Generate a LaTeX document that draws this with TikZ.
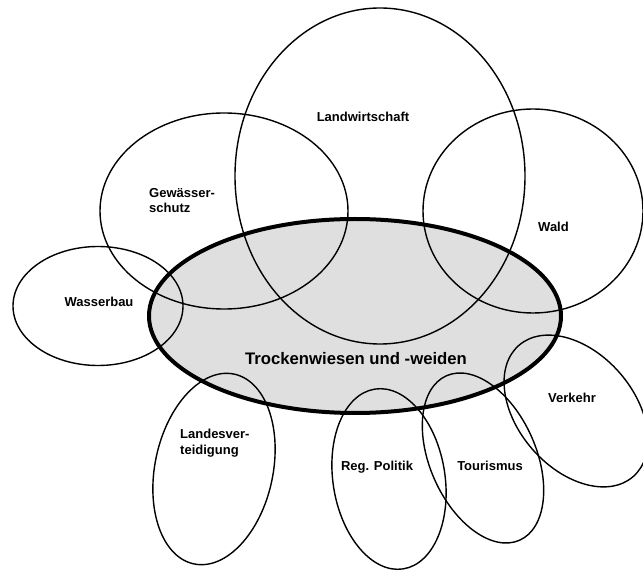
\documentclass[tikz,border=0pt]{standalone}
\usepackage{fontspec}
\setmainfont{Liberation Sans}
\begin{document}
\begin{tikzpicture}[x=1pt,y=1pt,
  field/.style={draw=black,line width=1.4pt},
  core/.style={draw=black,line width=4pt},
  lbl/.style={font=\fontsize{13}{15.5}\selectfont\bfseries,inner sep=0pt,align=left},
  biglbl/.style={font=\fontsize{16.7}{19}\selectfont\bfseries,inner sep=0pt}]
\useasboundingbox (0,0) rectangle (643,571);
\clip (0,0) rectangle (643,571);
\fill[white] (0,0) rectangle (643,571);

% core area fill
\fill[gray!25] (355,255) ellipse [x radius=206, y radius=97];

% surrounding policy fields
\draw[field] (380,395) ellipse [x radius=145, y radius=168];
\draw[field] (224,360) ellipse [x radius=124, y radius=98];
\draw[field] (533,360) ellipse [x radius=110, y radius=102];
\draw[field] (98,265) ellipse [x radius=85, y radius=59.5];
\draw[field,rotate around={-12:(214,102)}] (214,102) ellipse [x radius=59, y radius=97];
\draw[field,rotate around={9:(389,92)}] (389,92) ellipse [x radius=56, y radius=91];
\draw[field,rotate around={24:(483,113)}] (483,113) ellipse [x radius=53, y radius=90];
\draw[field,rotate around={41:(576,160)}] (576,160) ellipse [x radius=58, y radius=87];

% core area outline
\draw[core] (355,255) ellipse [x radius=206, y radius=97];

% labels
\node[lbl] (lw) at (363,454) {Landwirtschaft};
\node[lbl,anchor=west] (gs) at (149,370.5) {Gewässer-\\schutz};
\node[lbl] (wa) at (553.5,344) {Wald};
\node[lbl] (wb) at (99,269) {Wasserbau};
\node[biglbl] (tw) at (356,212) {Trockenwiesen und -weiden};
\node[lbl,anchor=west] (lv) at (180,128) {Landesver-\\teidigung};
\node[lbl] (rp) at (377,104) {Reg. Politik};
\node[lbl] (to) at (490,105) {Tourismus};
\node[lbl] (vk) at (572,173) {Verkehr};
\end{tikzpicture}
\end{document}
